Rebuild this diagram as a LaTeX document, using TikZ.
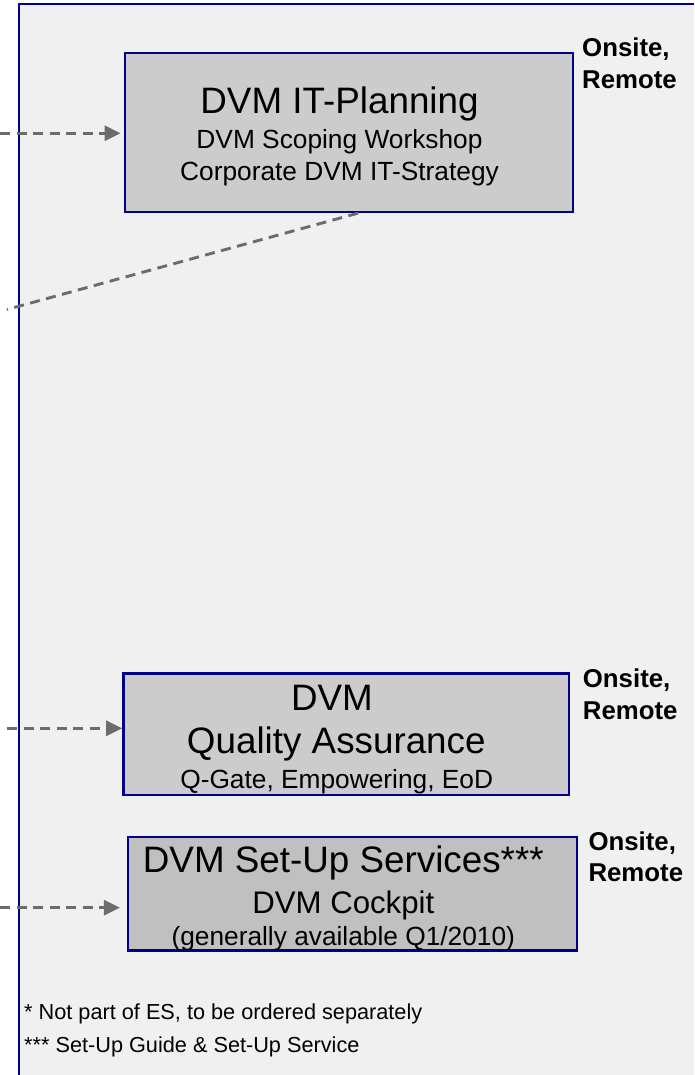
\documentclass[tikz,border=0pt]{standalone}
\usepackage{fontspec}
\setmainfont{Liberation Sans}
\usetikzlibrary{arrows.meta}
\definecolor{panelbg}{HTML}{F0F0F0}
\definecolor{navyb}{HTML}{000088}
\definecolor{boxgray}{HTML}{CCCCCC}
\definecolor{boxgrayd}{HTML}{C0C0C0}
\definecolor{dashgray}{HTML}{6C6C6C}
\tikzset{
  svcbox/.style={draw=navyb, line width=2.3pt, inner sep=0pt, rectangle},
  dasharrow/.style={draw=dashgray, line width=2.9pt, dash pattern=on 10pt off 6.5pt,
    -{Triangle[length=16pt,width=15pt,fill=dashgray]}},
  dashline/.style={draw=dashgray, line width=2.9pt, dash pattern=on 10pt off 6.5pt},
  titletxt/.style={anchor=base, inner sep=0pt, font=\fontsize{36.8}{40}\selectfont},
  subtxt/.style={anchor=base, inner sep=0pt, font=\fontsize{26.3}{30}\selectfont},
  wheretxt/.style={anchor=base west, inner sep=0pt, align=left, font=\fontsize{25.8}{31.6}\selectfont\bfseries},
  notetxt/.style={anchor=base west, inner sep=0pt, font=\fontsize{21.7}{26}\selectfont},
}
\begin{document}
\begin{tikzpicture}[x=1pt,y=-1pt]
\useasboundingbox (0,0) rectangle (694,1075);
\fill[white] (0,0) rectangle (694,1075);
% panel
\fill[panelbg] (19,4) rectangle (694,1075);
\draw[navyb, line width=2pt] (19,1075) -- (19,4) -- (694,4);

% boxes
\node[svcbox, fill=boxgray, minimum width=448pt, minimum height=159pt] (b1) at (349,132.5) {};
\node[svcbox, fill=boxgray, minimum width=445.7pt, minimum height=121.7pt] (b2) at (346.2,734.2) {};
\node[svcbox, fill=boxgrayd, minimum width=449pt, minimum height=113.5pt] (b3) at (352.8,893.8) {};

% box 1 texts
\node[titletxt] (t1) at (339.5,114) {DVM IT-Planning};
\node[subtxt] (t1a) at (339.5,149) {DVM Scoping Workshop};
\node[subtxt] (t1b) at (339.5,180.5) {Corporate DVM IT-Strategy};
\node[wheretxt] (w1) at (582,88.3) {Onsite,\\Remote};

% box 2 texts
\node[titletxt] (t2) at (332,710) {DVM};
\node[titletxt] (t2a) at (336.3,753.3) {Quality Assurance};
\node[subtxt] (t2b) at (336.7,788.3) {Q-Gate, Empowering, EoD};
\node[wheretxt] (w2) at (582.7,719) {Onsite,\\Remote};

% box 3 texts
\node[titletxt] (t3) at (343.3,872.7) {DVM Set-Up Services***};
\node[anchor=base, inner sep=0pt, font=\fontsize{31.2}{34}\selectfont] (t3a) at (343.3,913) {DVM Cockpit};
\node[subtxt] (t3b) at (343.3,945) {(generally available Q1/2010)};
\node[wheretxt] (w3) at (588.3,881.7) {Onsite,\\Remote};

% footnotes
\node[notetxt] (n1) at (24,1019) {* Not part of ES, to be ordered separately};
\node[notetxt] (n2) at (24,1052) {*** Set-Up Guide \& Set-Up Service};

% connectors
\coordinate (s1) at (0,133.3);
\coordinate (s2) at (7,309.5);
\coordinate (e2x) at (358,0);
\coordinate (s3) at (7,728.3);
\coordinate (s4) at (0,907.7);
\draw[dasharrow, shorten >=3.3pt] (s1) -- (s1 -| b1.west);
\draw[dashline] (e2x |- b1.south) -- (s2);
\draw[dasharrow] (s3) -- (s3 -| b2.west);
\draw[dasharrow, shorten >=7.3pt] (s4) -- (s4 -| b3.west);
\end{tikzpicture}
\end{document}
